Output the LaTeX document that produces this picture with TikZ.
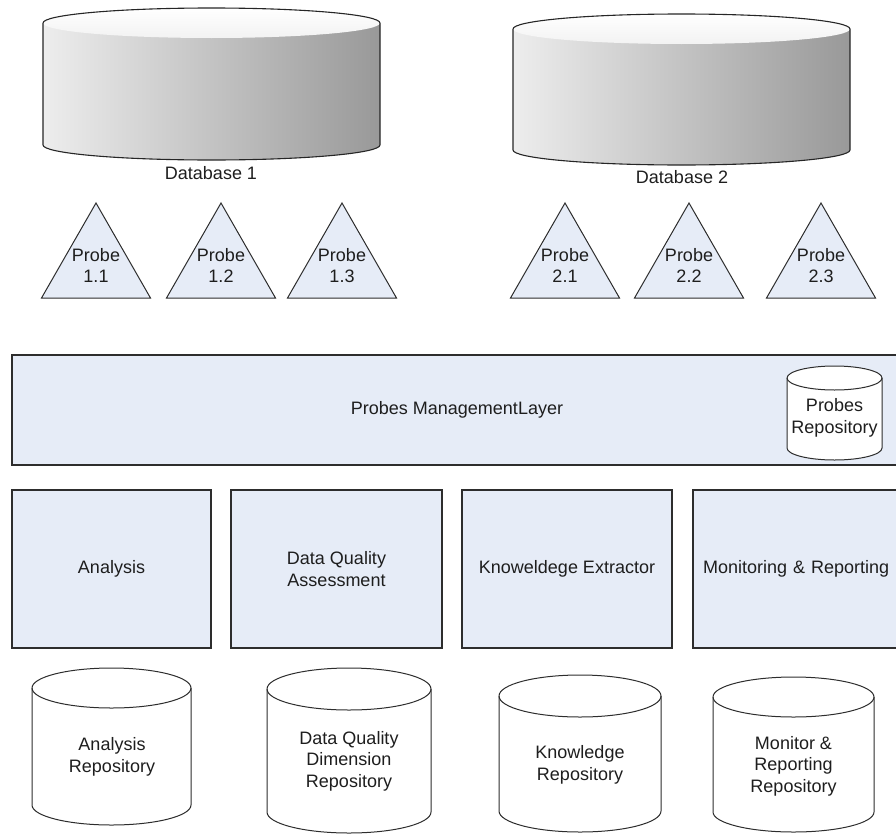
\documentclass[tikz,border=0pt]{standalone}
\usepackage{fontspec}
\setmainfont{Liberation Sans}

\definecolor{layerfill}{RGB}{230,236,247}
\definecolor{edge}{RGB}{45,45,45}
\definecolor{txt}{RGB}{30,30,30}

\tikzset{
  lbl/.style={font=\fontsize{18}{21.5}\selectfont, text=txt, align=center, inner sep=0pt},
  blockbox/.style={draw=edge, line width=1.1pt, fill=layerfill, inner sep=0pt, outer sep=0pt,
                   anchor=north west, font=\fontsize{18}{21.5}\selectfont, text=txt, align=center},
  cylline/.style={draw=edge, line width=1pt},
  dbline/.style={draw=black!85, line width=1.1pt},
  probetri/.style={draw=edge, line width=1pt, fill=layerfill, line join=miter},
}

% white repository cylinder: name, left x, right x, top y, bottom y, end radius (pixel units, y downwards)
\newcommand\repocyl[6]{%
  \pgfmathsetmacro\cxx{(#2+#3)/2}%
  \pgfmathsetmacro\rxx{(#3-#2)/2}%
  \draw[cylline, fill=white] (#2,{-(#4+#6)}) -- (#2,{-(#5-#6)})
     arc[start angle=180, end angle=360, x radius=\rxx pt, y radius=#6 pt]
     -- (#3,{-(#4+#6)})
     arc[start angle=0, end angle=180, x radius=\rxx pt, y radius=#6 pt] -- cycle;
  \draw[cylline] (#2,{-(#4+#6)})
     arc[start angle=180, end angle=360, x radius=\rxx pt, y radius=#6 pt];
  \coordinate (#1) at (\cxx,{-(#4+#5)/2});
}

% shaded database cylinder: name, left x, right x, top y, bottom y, end radius
\newcommand\shadedcyl[6]{%
  \pgfmathsetmacro\cxx{(#2+#3)/2}%
  \pgfmathsetmacro\rxx{(#3-#2)/2}%
  \shade[left color=black!7, right color=black!40] (#2,{-(#4+#6)}) -- (#2,{-(#5-#6)})
     arc[start angle=180, end angle=360, x radius=\rxx pt, y radius=#6 pt]
     -- (#3,{-(#4+#6)}) -- cycle;
  \shade[top color=white, bottom color=black!5] (\cxx,{-(#4+#6)})
     ellipse[x radius=\rxx pt, y radius=#6 pt];
  \draw[dbline] (#2,{-(#4+#6)}) -- (#2,{-(#5-#6)})
     arc[start angle=180, end angle=360, x radius=\rxx pt, y radius=#6 pt]
     -- (#3,{-(#4+#6)})
     arc[start angle=0, end angle=180, x radius=\rxx pt, y radius=#6 pt];
  \coordinate (#1) at (\cxx,{-(#4+#5)/2});
}

% probe triangle: name, apex x, number
\newcommand\probe[3]{%
  \draw[probetri] (#2,-203) -- (#2+54.5,-298) -- (#2-54.5,-298) -- cycle;
  \node[lbl] (#1) at (#2,-265.5) {Probe\\#3};
}

\begin{document}
\begin{tikzpicture}[x=1pt,y=1pt]
  \useasboundingbox (0,0) rectangle (896,-835);

  % source databases
  \shadedcyl{db1}{43}{380}{8}{160}{15}
  \node[lbl] (db1label) at (211,-173) {Database 1};
  \shadedcyl{db2}{513}{850}{14}{165}{15}
  \node[lbl] (db2label) at (682,-177) {Database 2};

  % probes
  \probe{p11}{96}{1.1}
  \probe{p12}{221}{1.2}
  \probe{p13}{342}{1.3}
  \probe{p21}{565}{2.1}
  \probe{p22}{689}{2.2}
  \probe{p23}{821}{2.3}

  % probes management layer
  \node[blockbox, minimum width=888, minimum height=110] (mgmt) at (12,-355) {};
  \node[lbl] (mgmtlabel) at (457,-410) {Probes ManagementLayer};
  \repocyl{probesrepo}{787}{882}{366}{460}{12}
  \node[lbl] (probesrepolabel) at (834.5,-418) {Probes\\Repository};

  % service components
  \node[blockbox, minimum width=199, minimum height=158] (analysis) at (12,-490) {Analysis};
  \node[blockbox, minimum width=211, minimum height=158] (dqa) at (231,-490) {Data Quality\\Assessment};
  \node[blockbox, minimum width=210, minimum height=158] (kex) at (462,-490) {Knoweldege Extractor};
  \node[blockbox, minimum width=207, minimum height=158, text width=200, align=left] (mon) at (693,-490) {\hspace*{6.5pt}Monitoring \& Reporting};

  % repositories
  \repocyl{anrepo}{32}{191}{668}{825}{20}
  \node[lbl] (anrepolabel) at (112,-757) {Analysis\\Repository};
  \repocyl{dqrepo}{267}{431}{668}{833}{21}
  \node[lbl] (dqrepolabel) at (349,-761) {Data Quality\\Dimension\\Repository};
  \repocyl{knrepo}{499}{661}{675}{832}{21}
  \node[lbl] (knrepolabel) at (580,-765) {Knowledge\\Repository};
  \repocyl{monrepo}{713}{874}{677}{832}{20}
  \node[lbl] (monrepolabel) at (793.5,-766) {Monitor \&\\Reporting\\Repository};
\end{tikzpicture}
\end{document}
